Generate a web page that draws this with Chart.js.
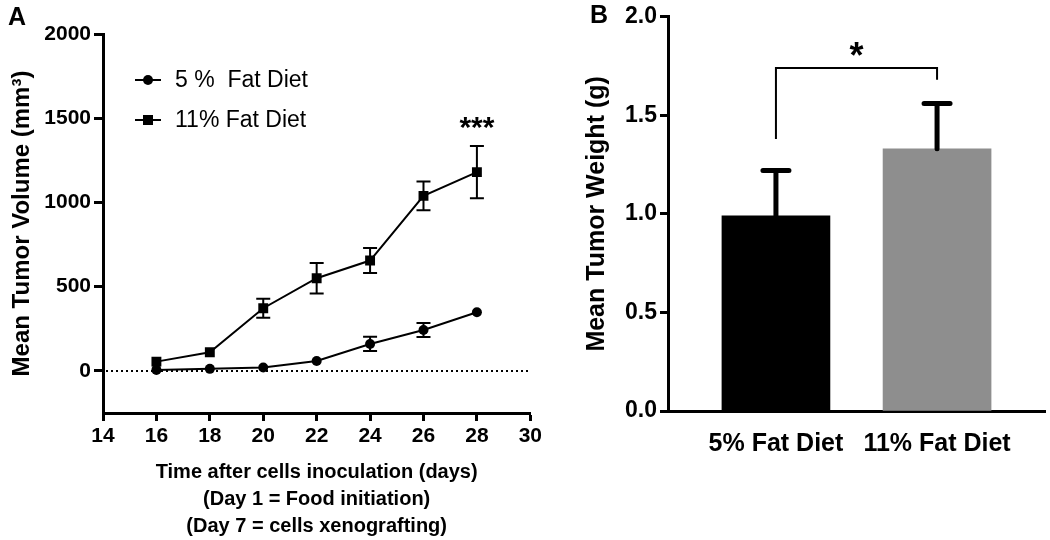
<!DOCTYPE html>
<html>
<head>
<meta charset="utf-8">
<script src="https://cdn.jsdelivr.net/npm/chart.js@4/dist/chart.umd.min.js"></script>
<style>
  body { margin: 0; background: #fff; }
  #wrap { position: relative; width: 1050px; height: 540px; }
  canvas { position: absolute; top: 0; }
  #tumorVolume { left: 0; }
  #tumorWeight { left: 545px; }
</style>
</head>
<body>
<div id="wrap">
  <canvas id="tumorVolume" width="545" height="540"></canvas>
  <canvas id="tumorWeight" width="505" height="540"></canvas>
</div>
<script>
// Panel A: tumour volume over time
const days = [16, 18, 20, 22, 24, 26, 28];
const dayTicks = [14, 16, 18, 20, 22, 24, 26, 28, 30];
const lowFatMean = [6, 12, 20, 59, 160, 243, 348];
const lowFatSem = [0, 0, 0, 0, 42, 42, 0];
const highFatMean = [55, 111, 372, 550, 655, 1039, 1180];
const highFatSem = [0, 0, 57, 90, 74, 86, 155];
const volumeTicks = [0, 500, 1000, 1500, 2000];
const volumeStars = { day: 28, level: 1390, text: '***' };

// Panel B: tumour weight at the end
const dietLabels = ['5% Fat Diet', '11% Fat Diet'];
const weightMean = [0.99, 1.33];
const weightSem = [0.23, 0.23];
const weightColors = ['#000000', '#8e8e8e'];
const weightTicks = [0, 0.5, 1, 1.5, 2];
const bracketLevels = { left: 1.38, top: 1.74, right: 1.68, star: 1.74 };

const FONT = "'Liberation Sans', Arial, Helvetica, sans-serif";
Chart.defaults.font.family = FONT;
Chart.defaults.color = '#000';

function fixTicks(values) {
  return scale => { scale.ticks = values.map(v => ({ value: v })); };
}

// dotted zero line, error bars, stars, legend, panel letter
const volumeDecor = {
  id: 'volumeDecor',
  beforeDatasetsDraw(chart) {
    const { ctx, chartArea, scales: { y } } = chart;
    const y0 = y.getPixelForValue(0);
    ctx.save();
    ctx.strokeStyle = '#000';
    ctx.lineWidth = 2;
    ctx.setLineDash([2, 3]);
    ctx.beginPath();
    ctx.moveTo(chartArea.left + 3, y0);
    ctx.lineTo(chartArea.right, y0);
    ctx.stroke();
    ctx.restore();
  },
  afterDatasetsDraw(chart) {
    const { ctx, chartArea, scales: { x, y } } = chart;
    ctx.save();
    ctx.strokeStyle = '#000';
    ctx.fillStyle = '#000';
    ctx.lineWidth = 2;
    [[lowFatMean, lowFatSem], [highFatMean, highFatSem]].forEach(([mean, sem]) => {
      days.forEach((d, i) => {
        if (!sem[i]) return;
        const px = x.getPixelForValue(d);
        const top = y.getPixelForValue(mean[i] + sem[i]);
        const bot = y.getPixelForValue(mean[i] - sem[i]);
        ctx.beginPath();
        ctx.moveTo(px, top); ctx.lineTo(px, bot);
        ctx.moveTo(px - 7, top); ctx.lineTo(px + 7, top);
        ctx.moveTo(px - 7, bot); ctx.lineTo(px + 7, bot);
        ctx.stroke();
      });
    });

    ctx.font = 'bold 30px ' + FONT;
    ctx.textAlign = 'center';
    ctx.textBaseline = 'alphabetic';
    ctx.fillText(volumeStars.text, x.getPixelForValue(volumeStars.day), y.getPixelForValue(volumeStars.level));

    // legend (line + marker + label)
    const mx = chartArea.left + 45;
    chart.data.datasets.forEach((ds, i) => {
      const ly = chartArea.top + 46 + i * 40;
      ctx.lineWidth = 2;
      ctx.beginPath();
      ctx.moveTo(mx - 13, ly); ctx.lineTo(mx + 13, ly);
      ctx.stroke();
      ctx.beginPath();
      if (ds.pointStyle === 'rect') ctx.rect(mx - 5, ly - 5, 10, 10);
      else ctx.arc(mx, ly, 5, 0, Math.PI * 2);
      ctx.fill();
      ctx.font = '23px ' + FONT;
      ctx.textAlign = 'left';
      ctx.textBaseline = 'middle';
      ctx.fillText(ds.label, mx + 27, ly + 1);
    });

    ctx.font = 'bold 25px ' + FONT;
    ctx.textAlign = 'center';
    ctx.textBaseline = 'middle';
    ctx.fillText('A', 17, 18);
    ctx.restore();
  }
};

const weightDecor = {
  id: 'weightDecor',
  afterDatasetsDraw(chart) {
    const { ctx, scales: { x, y } } = chart;
    ctx.save();
    ctx.strokeStyle = '#000';
    ctx.fillStyle = '#000';
    ctx.lineCap = 'round';
    ctx.lineWidth = 5;
    weightMean.forEach((m, i) => {
      const px = x.getPixelForValue(i + 1);
      const top = y.getPixelForValue(m + weightSem[i]);
      ctx.beginPath();
      ctx.moveTo(px, y.getPixelForValue(m)); ctx.lineTo(px, top);
      ctx.moveTo(px - 13, top); ctx.lineTo(px + 13, top);
      ctx.stroke();
    });

    const x1 = x.getPixelForValue(1), x2 = x.getPixelForValue(2);
    ctx.lineCap = 'butt';
    ctx.lineWidth = 2;
    ctx.beginPath();
    ctx.moveTo(x1, y.getPixelForValue(bracketLevels.left));
    ctx.lineTo(x1, y.getPixelForValue(bracketLevels.top));
    ctx.lineTo(x2, y.getPixelForValue(bracketLevels.top));
    ctx.lineTo(x2, y.getPixelForValue(bracketLevels.right));
    ctx.stroke();

    ctx.font = 'bold 36px ' + FONT;
    ctx.textAlign = 'center';
    ctx.textBaseline = 'alphabetic';
    ctx.fillText('*', (x1 + x2) / 2, y.getPixelForValue(bracketLevels.star));

    ctx.font = 'bold 25px ' + FONT;
    ctx.textBaseline = 'middle';
    ctx.fillText('B', 54, 16);
    ctx.restore();
  }
};

new Chart(document.getElementById('tumorVolume'), {
  type: 'line',
  data: {
    datasets: [
      {
        label: '5 %  Fat Diet',
        data: days.map((d, i) => ({ x: d, y: lowFatMean[i] })),
        borderColor: '#000',
        backgroundColor: '#000',
        borderWidth: 2,
        pointStyle: 'circle',
        pointRadius: 5,
        pointBorderWidth: 0,
        tension: 0
      },
      {
        label: '11% Fat Diet',
        data: days.map((d, i) => ({ x: d, y: highFatMean[i] })),
        borderColor: '#000',
        backgroundColor: '#000',
        borderWidth: 2,
        pointStyle: 'rect',
        pointRadius: 7,
        pointBorderWidth: 0,
        tension: 0
      }
    ]
  },
  options: {
    responsive: false,
    animation: false,
    layout: { padding: { left: 0, right: 14, top: 34, bottom: 0 } },
    plugins: { legend: { display: false }, tooltip: { enabled: false } },
    scales: {
      x: {
        type: 'linear',
        min: 14,
        max: 30,
        afterBuildTicks: fixTicks(dayTicks),
        afterFit: s => { s.height = 127; },
        border: { color: '#000', width: 3 },
        grid: { drawOnChartArea: false, tickLength: 8, tickColor: '#000', tickWidth: 3 },
        ticks: { color: '#000', font: { size: 21, weight: 'bold' }, padding: 3, maxRotation: 0, callback: v => String(v) },
        title: {
          display: true,
          text: ['Time after cells inoculation (days)', '(Day 1 = Food initiation)', '(Day 7 = cells xenografting)'],
          color: '#000',
          font: { size: 20, weight: 'bold', lineHeight: 1.35 },
          padding: { top: 0, bottom: 0 }
        }
      },
      y: {
        min: -250,
        max: 2000,
        afterBuildTicks: fixTicks(volumeTicks),
        afterFit: s => { s.width = 103; },
        border: { color: '#000', width: 3 },
        grid: { drawOnChartArea: false, tickLength: 9, tickColor: '#000', tickWidth: 3 },
        ticks: { color: '#000', font: { size: 21, weight: 'bold' }, padding: 3, callback: v => String(v) },
        title: {
          display: true,
          text: 'Mean Tumor Volume (mm³)',
          color: '#000',
          font: { size: 24, weight: 'bold' },
          padding: { top: 8, bottom: 0 }
        }
      }
    }
  },
  plugins: [volumeDecor]
});

new Chart(document.getElementById('tumorWeight'), {
  type: 'bar',
  data: {
    datasets: [{
      data: weightMean.map((v, i) => ({ x: i + 1, y: v })),
      backgroundColor: weightColors,
      borderWidth: 0,
      barThickness: 108
    }]
  },
  options: {
    responsive: false,
    animation: false,
    layout: { padding: { left: 0, right: 5, top: 14, bottom: 0 } },
    plugins: { legend: { display: false }, tooltip: { enabled: false } },
    scales: {
      x: {
        type: 'linear',
        min: 0.33,
        max: 2.67,
        offset: false,
        afterBuildTicks: fixTicks([1, 2]),
        afterFit: s => { s.height = 129; },
        border: { color: '#000', width: 3 },
        grid: { display: false, drawTicks: false },
        ticks: {
          color: '#000',
          font: { size: 25, weight: 'bold' },
          padding: 18,
          maxRotation: 0,
          callback: v => dietLabels[v - 1]
        }
      },
      y: {
        min: 0,
        max: 2,
        afterBuildTicks: fixTicks(weightTicks),
        afterFit: s => { s.width = 123; },
        border: { color: '#000', width: 3 },
        grid: { drawOnChartArea: false, tickLength: 8, tickColor: '#000', tickWidth: 3 },
        ticks: { color: '#000', font: { size: 23, weight: 'bold' }, padding: 3, callback: v => v.toFixed(1) },
        title: {
          display: true,
          text: 'Mean Tumor Weight (g)',
          color: '#000',
          font: { size: 25, weight: 'bold' },
          padding: { top: 37, bottom: 0 }
        }
      }
    }
  },
  plugins: [weightDecor]
});
</script>
</body>
</html>
